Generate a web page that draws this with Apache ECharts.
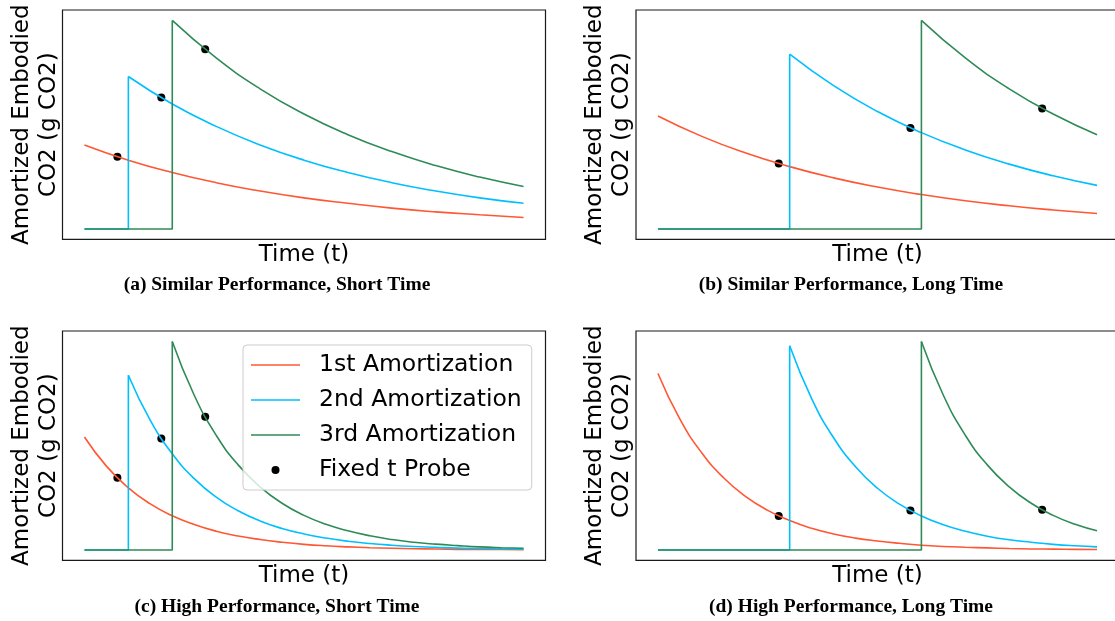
<!DOCTYPE html>
<html>
<head>
<meta charset="utf-8">
<script src="https://cdn.jsdelivr.net/npm/echarts@6/dist/echarts.min.js"></script>
<style>
  html, body { margin: 0; padding: 0; background: #fff; }
  #chart { width: 1115px; height: 621px; }
</style>
</head>
<body>
<div id="chart"></div>
<script>
// sample times (t)
const timeWhole = [0, 1, 2, 3, 4, 5, 6, 7, 8, 9, 10];
const timeHalf = [0, 0.5, 1, 1.5, 2, 2.5, 3, 3.5, 4, 4.5, 5, 5.5, 6, 6.5, 7, 7.5, 8, 8.5, 9, 9.5, 10];
const idleValue = 0;

const seriesNames = ['1st Amortization', '2nd Amortization', '3rd Amortization', 'Fixed t Probe'];
const captions = [
  '(a) Similar Performance, Short Time',
  '(b) Similar Performance, Long Time',
  '(c) High Performance, Short Time',
  '(d) High Performance, Long Time'
];

// (a) similar performance, short time
const aJumps = [1, 2];
const aFirst = [40.3, 33.0, 27.1, 22.2, 18.2, 14.9, 12.3, 10.0, 8.2, 6.8, 5.5];
const aSecond = [73.1, 59.9, 49.2, 40.3, 33.0, 27.1, 22.2, 18.2, 14.9, 12.3];
const aThird = [100, 82.0, 67.2, 55.1, 45.2, 37.1, 30.4, 24.9, 20.4];
const aProbeT = [0.75, 1.75, 2.75];
const aProbeY = [34.6, 63.0, 86.2];

// (b) similar performance, long time
const bJumps = [3, 6];
const bFirst = [54.2, 44.4, 36.4, 29.9, 24.5, 20.1, 16.5, 13.5, 11.1, 9.1, 7.4];
const bSecond = [83.8, 68.7, 56.3, 46.2, 37.9, 31.1, 25.5, 20.9];
const bThird = [100, 82.0, 67.2, 55.1, 45.2];
const bProbeT = [2.75, 5.75, 8.75];
const bProbeY = [31.4, 48.4, 57.8];

// (c) high performance, short time
const cJumps = [1, 2];
const cFirst = [54.2, 40.2, 29.8, 22.1, 16.4, 12.2, 9.0, 6.7, 5.0, 3.7, 2.7, 2.0, 1.5, 1.1, 0.8, 0.6, 0.5, 0.3, 0.2, 0.2, 0.1];
const cSecond = [83.8, 62.1, 46.1, 34.2, 25.3, 18.8, 13.9, 10.3, 7.7, 5.7, 4.2, 3.1, 2.3, 1.7, 1.3, 0.9, 0.7, 0.5, 0.4];
const cThird = [100, 74.2, 55.0, 40.8, 30.3, 22.4, 16.6, 12.3, 9.2, 6.8, 5.0, 3.7, 2.8, 2.1, 1.5, 1.1, 0.8];
const cProbeT = [0.75, 1.75, 2.75];
const cProbeY = [34.6, 53.5, 63.9];

// (d) high performance, long time
const dJumps = [3, 6];
const dFirst = [84.6, 62.7, 46.5, 34.5, 25.6, 19.0, 14.1, 10.4, 7.7, 5.7, 4.3, 3.2, 2.3, 1.7, 1.3, 1.0, 0.7, 0.5, 0.4, 0.3, 0.2];
const dSecond = [97.9, 72.6, 53.8, 39.9, 29.6, 22.0, 16.3, 12.1, 9.0, 6.6, 4.9, 3.7, 2.7, 2.0, 1.5];
const dThird = [100, 74.2, 55.0, 40.8, 30.3, 22.4, 16.6, 12.3, 9.2];
const dProbeT = [2.75, 5.75, 8.75];
const dProbeY = [16.3, 18.9, 19.3];

const colors = ['#ff5733', '#00bfff', '#2e8b57', '#000000'];
const lineIcon = 'path://M0,0H49V1.6H0Z';

const panels = [
  { time: timeWhole, jumps: aJumps, curves: [aFirst, aSecond, aThird], probeT: aProbeT, probeY: aProbeY },
  { time: timeWhole, jumps: bJumps, curves: [bFirst, bSecond, bThird], probeT: bProbeT, probeY: bProbeY },
  { time: timeHalf, jumps: cJumps, curves: [cFirst, cSecond, cThird], probeT: cProbeT, probeY: cProbeY },
  { time: timeHalf, jumps: dJumps, curves: [dFirst, dSecond, dThird], probeT: dProbeT, probeY: dProbeY }
];

// right-hand panels run past the page edge, as in the original figure
const grids = [
  { left: 62.5, top: 10, width: 483, height: 229.4 },
  { left: 636, top: 10, width: 483, height: 229.4 },
  { left: 62.5, top: 331, width: 483, height: 229.4 },
  { left: 636, top: 331, width: 483, height: 229.4 }
];
const captionPos = [[277, 275], [851, 275], [277, 597], [851, 597]];

const labelFont = { fontFamily: 'DejaVu Sans', fontSize: 23, lineHeight: 27, color: '#000' };

function lineSeries(name, color, idx, data, smooth) {
  return {
    name: name,
    type: 'line',
    xAxisIndex: idx,
    yAxisIndex: idx,
    data: data,
    smooth: smooth,
    symbol: 'none',
    silent: true,
    lineStyle: { color: color, width: 1.6 },
    itemStyle: { color: color }
  };
}

const series = [];
panels.forEach((p, idx) => {
  // 1st amortization starts at t = 0
  series.push(lineSeries(seriesNames[0], colors[0], idx, p.time.map((t, i) => [t, p.curves[0][i]]), true));
  // 2nd and 3rd: idle until their jump, then decay
  [1, 2].forEach(k => {
    const start = p.jumps[k - 1];
    const vals = p.curves[k];
    series.push(lineSeries(seriesNames[k], colors[k], idx,
      [[p.time[0], idleValue], [start, idleValue], [start, vals[0]]], false));
    const times = p.time.filter(t => t >= start);
    series.push(lineSeries(seriesNames[k], colors[k], idx, times.map((t, i) => [t, vals[i]]), true));
  });
  series.push({
    name: seriesNames[3],
    type: 'scatter',
    xAxisIndex: idx,
    yAxisIndex: idx,
    symbolSize: 8,
    silent: true,
    itemStyle: { color: colors[3], opacity: 1 },
    data: p.probeT.map((t, i) => [t, p.probeY[i]])
  });
});

const option = {
  animation: false,
  backgroundColor: '#fff',
  grid: grids.map(g => Object.assign({
    show: true, borderColor: '#1a1a1a', borderWidth: 1.2, outerBoundsMode: 'none', containLabel: false
  }, g)),
  xAxis: grids.map((g, i) => ({
    type: 'value',
    gridIndex: i,
    min: -0.5,
    max: 10.5,
    name: 'Time (t)',
    nameLocation: 'middle',
    nameGap: 2,
    nameTextStyle: labelFont,
    axisLine: { show: false },
    axisTick: { show: false },
    axisLabel: { show: false },
    splitLine: { show: false }
  })),
  yAxis: grids.map((g, i) => ({
    type: 'value',
    gridIndex: i,
    min: -5,
    max: 105,
    name: 'Amortized Embodied\nCO2 (g CO2)',
    nameLocation: 'middle',
    nameGap: 0,
    nameTextStyle: labelFont,
    axisLine: { show: false },
    axisTick: { show: false },
    axisLabel: { show: false },
    splitLine: { show: false }
  })),
  title: captions.map((c, i) => ({
    text: c,
    left: captionPos[i][0],
    top: captionPos[i][1],
    textAlign: 'center',
    padding: 0,
    textStyle: { fontFamily: 'Liberation Serif', fontWeight: 'bold', fontSize: 19.5, color: '#000' }
  })),
  legend: {
    orient: 'vertical',
    left: 243,
    top: 345,
    padding: [7, 10, 7, 8],
    itemWidth: 49,
    itemHeight: 8,
    itemGap: 9,
    selectedMode: false,
    backgroundColor: 'rgba(255,255,255,0.8)',
    borderColor: '#cccccc',
    borderWidth: 1,
    borderRadius: 4,
    textStyle: { fontFamily: 'DejaVu Sans', fontSize: 23.5, lineHeight: 26, color: '#000', padding: [0, 0, 0, 14] },
    data: [
      { name: seriesNames[0], icon: lineIcon, itemStyle: { color: colors[0], borderWidth: 0 } },
      { name: seriesNames[1], icon: lineIcon, itemStyle: { color: colors[1], borderWidth: 0 } },
      { name: seriesNames[2], icon: lineIcon, itemStyle: { color: colors[2], borderWidth: 0 } },
      { name: seriesNames[3], icon: 'circle', itemStyle: { color: colors[3], borderWidth: 0 } }
    ]
  },
  series: series
};

const chart = echarts.init(document.getElementById('chart'), null, { renderer: 'canvas' });
chart.setOption(option);
</script>
</body>
</html>
